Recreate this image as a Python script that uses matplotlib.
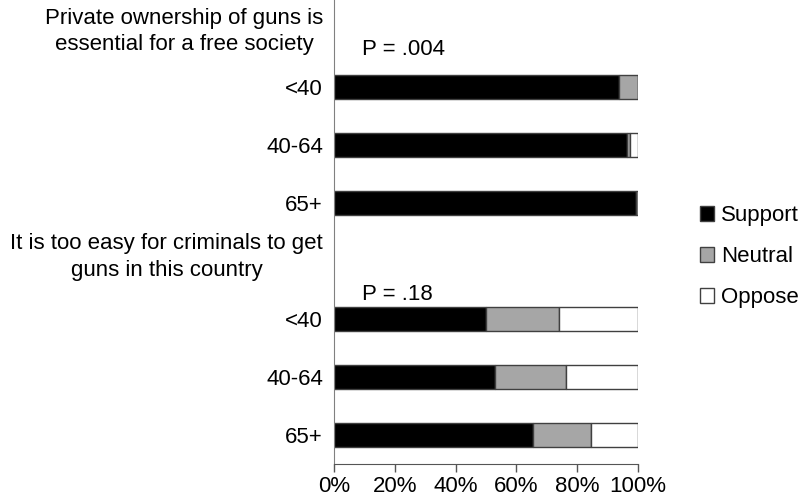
import matplotlib
matplotlib.use("Agg")
import matplotlib.pyplot as plt
from matplotlib.patches import Patch

plt.rcParams['font.family'] = ['Liberation Sans', 'DejaVu Sans']

groups = ["<40", "40-64", "65+"]
q1_title = "Private ownership of guns is\nessential for a free society"
q2_title = "It is too easy for criminals to get\nguns in this country"
q1_p = "P = .004"
q2_p = "P = .18"
q1_support = [93.9, 96.3, 99.2]
q1_neutral = [6.1, 1.0, 0.8]
q1_oppose = [0.0, 2.7, 0.0]
q2_support = [50.1, 53.0, 65.6]
q2_neutral = [24.0, 23.4, 18.9]
q2_oppose = [25.9, 23.6, 15.5]
series_names = ["Support", "Neutral", "Oppose"]
colors = ["#000000", "#a6a6a6", "#ffffff"]
xticks = [0, 20, 40, 60, 80, 100]
xticklabels = ["0%", "20%", "40%", "60%", "80%", "100%"]

FS = 16
W, H = 805, 504
fig = plt.figure(figsize=(W / 100, H / 100), dpi=100)
ax = fig.add_axes([334 / W, 1 - 464 / H, (638 - 334) / W, 464 / H])

pos1 = [0, 1, 2]
pos2 = [4, 5, 6]
for pos, data in ((pos1, (q1_support, q1_neutral, q1_oppose)),
                  (pos2, (q2_support, q2_neutral, q2_oppose))):
    left = [0.0] * 3
    for vals, c in zip(data, colors):
        ax.barh(pos, vals, left=left, height=0.42, color=c,
                edgecolor="#404040", linewidth=1.0)
        left = [l + v for l, v in zip(left, vals)]

ax.set_xlim(0, 100)
ax.set_ylim(6.5, -1.5)
ax.set_yticks(pos1 + pos2)
ax.set_yticklabels(groups + groups)
ax.tick_params(axis='y', length=0, pad=8, labelsize=FS)
ax.set_xticks(xticks)
ax.set_xticklabels(xticklabels)
ax.tick_params(axis='x', length=6, width=1, color="#555555", pad=3, labelsize=FS)

for s in ("top", "right"):
    ax.spines[s].set_visible(False)
ax.spines["left"].set_color("#808080")
ax.spines["bottom"].set_color("#555555")

for title, y in ((q1_title, -0.96), (q2_title, 2.93)):
    ax.annotate(title, xy=(0, y), xycoords=('axes fraction', 'data'),
                xytext=(-11, 0), textcoords='offset pixels',
                ha='right', va='center', multialignment='center',
                fontsize=FS, linespacing=1.35)

ax.text(9.2, -0.64, q1_p, ha='left', va='center', fontsize=FS)
ax.text(9.2, 3.57, q2_p, ha='left', va='center', fontsize=FS)

handles = [Patch(facecolor=c, edgecolor="#404040", linewidth=1.0) for c in colors]
fig.legend(handles, series_names, loc='center left',
           bbox_to_anchor=(700 / W, 1 - 257 / H), frameon=False,
           fontsize=FS, handlelength=0.65, handleheight=0.65,
           handletextpad=0.3, labelspacing=0.9, borderpad=0,
           borderaxespad=0)

fig.savefig("out.png", dpi=100)
